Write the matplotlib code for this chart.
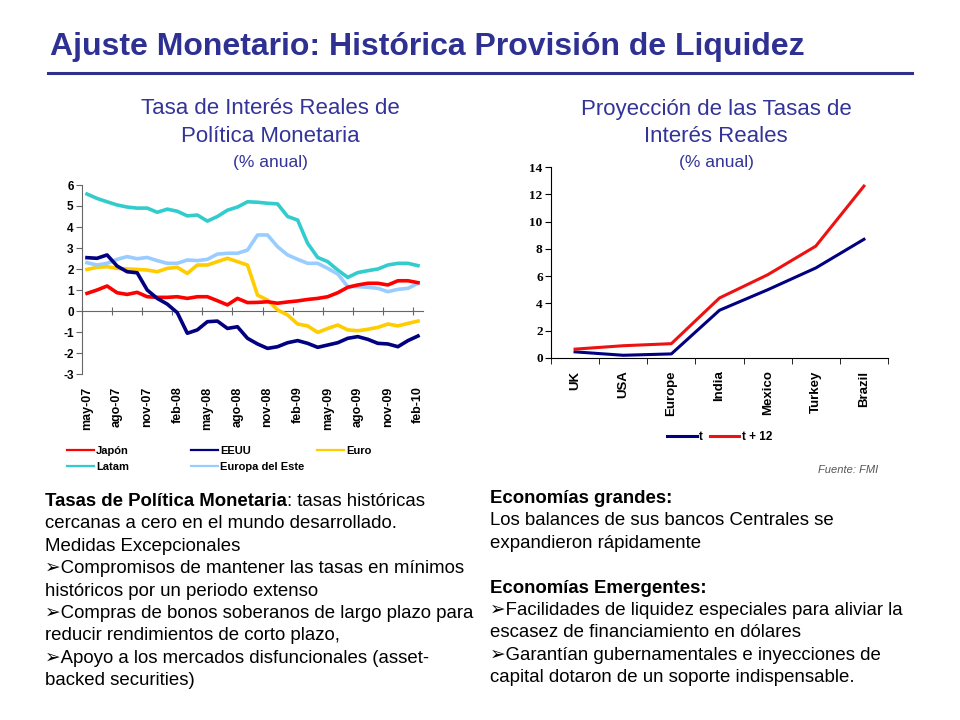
import matplotlib.pyplot as plt
import numpy as np

plt.rcParams['font.family'] = ['Liberation Sans', 'DejaVu Sans']
plt.rcParams['axes.unicode_minus'] = False

# left chart: real policy rates, monthly may-07 .. feb-10
meses = ['may-07', 'ago-07', 'nov-07', 'feb-08', 'may-08', 'ago-08', 'nov-08',
         'feb-09', 'may-09', 'ago-09', 'nov-09', 'feb-10']
japon = [0.84, 1.0, 1.19, 0.87, 0.79, 0.89, 0.68, 0.65, 0.65, 0.68,
         0.6, 0.68, 0.68, 0.49, 0.29, 0.6, 0.4, 0.41, 0.44, 0.37,
         0.43, 0.48, 0.55, 0.6, 0.68, 0.87, 1.13, 1.24, 1.32, 1.32,
         1.24, 1.44, 1.44, 1.35]
eeuu = [2.54, 2.51, 2.67, 2.14, 1.87, 1.82, 1.0, 0.6, 0.33, -0.08,
        -1.06, -0.9, -0.51, -0.48, -0.83, -0.75, -1.3, -1.57, -1.78, -1.70,
        -1.51, -1.41, -1.54, -1.73, -1.62, -1.51, -1.3, -1.22, -1.35, -1.54,
        -1.57, -1.7, -1.41, -1.19]
euro = [1.98, 2.08, 2.11, 2.03, 2.0, 1.98, 1.95, 1.87, 2.03, 2.08,
        1.79, 2.19, 2.19, 2.35, 2.51, 2.35, 2.19, 0.76, 0.52, 0.05,
        -0.19, -0.62, -0.71, -1.02, -0.83, -0.67, -0.9, -0.94, -0.87, -0.78,
        -0.62, -0.71, -0.59, -0.48]
latam = [5.57, 5.36, 5.2, 5.05, 4.95, 4.9, 4.9, 4.7, 4.85, 4.75,
         4.53, 4.57, 4.28, 4.5, 4.8, 4.95, 5.2, 5.18, 5.13, 5.1,
         4.5, 4.33, 3.22, 2.55, 2.35, 1.95, 1.6, 1.83, 1.92, 2.0,
         2.19, 2.27, 2.27, 2.16]
europa_este = [2.3, 2.19, 2.27, 2.46, 2.59, 2.49, 2.55, 2.4, 2.27, 2.27,
               2.43, 2.4, 2.46, 2.71, 2.75, 2.75, 2.9, 3.62, 3.62, 3.06,
               2.67, 2.46, 2.27, 2.27, 2.03, 1.76, 1.16, 1.16, 1.13, 1.08,
               0.92, 1.03, 1.08, 1.32]

# right chart: projected real rates
paises = ['UK', 'USA', 'Europe', 'India', 'Mexico', 'Turkey', 'Brazil']
tasa_t = [0.45, 0.2, 0.3, 3.5, 5.0, 6.6, 8.7]
tasa_t12 = [0.65, 0.9, 1.05, 4.4, 6.1, 8.2, 12.6]

W, H = 960, 720
NAVY = '#2E3192'
SUB = '#333399'


def box(x0, y0, x1, y1):
    return [x0 / W, 1 - y1 / H, (x1 - x0) / W, (y1 - y0) / H]


fig = plt.figure(figsize=(9.6, 7.2), dpi=100)

# title + rule
fig.text(50 / W, 1 - 47 / H, 'Ajuste Monetario: Histórica Provisión de Liquidez',
         color=NAVY, fontsize=23, fontweight='bold', va='center', ha='left')
fig.add_artist(plt.Line2D([48 / W, 912 / W], [1 - 73 / H, 1 - 73 / H],
                          color=NAVY, lw=2.2))

# subtitles
for cx, l1, l2 in [(270, 'Tasa de Interés Reales de', 'Política Monetaria'),
                   (716, 'Proyección de las Tasas de', 'Interés Reales')]:
    fig.text(cx / W, 1 - 109 / H, l1, color=SUB, fontsize=16, ha='center', va='center')
    fig.text(cx / W, 1 - 137 / H, l2, color=SUB, fontsize=16, ha='center', va='center')
    fig.text(cx / W, 1 - 163 / H, '(% anual)', color=SUB, fontsize=12.5, ha='center', va='center')

# ---- left chart
ax = fig.add_axes(box(82, 185, 423, 374))
x = np.arange(len(japon))
lw = 2.6
h_latam, = ax.plot(x, latam, color='#33CCCC', lw=lw, label='Latam')
h_euro, = ax.plot(x, euro, color='#FFCC00', lw=lw, label='Euro')
h_este, = ax.plot(x, europa_este, color='#99CCFF', lw=lw, label='Europa del Este')
h_jap, = ax.plot(x, japon, color='#FF0000', lw=lw, label='Japón')
h_eeuu, = ax.plot(x, eeuu, color='#000080', lw=lw, label='EEUU')

ax.set_xlim(-0.5, len(japon) - 0.5)
ax.set_ylim(-3, 6)
ax.set_yticks(range(-3, 7))
for s in ['top', 'right', 'bottom']:
    ax.spines[s].set_visible(False)
ax.spines['left'].set_color('#666666')
ax.tick_params(axis='y', direction='out', length=4, color='#666666', labelsize=8.5, pad=2)
for lab in ax.get_yticklabels():
    lab.set_fontweight('bold')
ax.set_xticks(np.arange(0, len(japon), 3))
ax.set_xticklabels(meses, rotation=90, fontsize=9, fontweight='bold')
ax.tick_params(axis='x', length=0, pad=9)

zero_axis = ax.secondary_xaxis(1 / 3)
zero_axis.set_xticks(np.arange(-0.5, len(japon), 3))
zero_axis.set_xticklabels([])
zero_axis.tick_params(axis='x', direction='inout', length=6, color='#666666')
zero_axis.spines['bottom'].set_color('#666666')

leg_kw = dict(loc='upper left', frameon=False, handlelength=2.4,
              handletextpad=0.2, borderpad=0, borderaxespad=0, labelspacing=0.55,
              prop={'weight': 'bold', 'size': 8})
cols = [([h_jap, h_latam], 67), ([h_eeuu, h_este], 191), ([h_euro], 317)]
for hs, lx in cols:
    lg = fig.legend(handles=hs, bbox_to_anchor=(lx / W, 1 - 446 / H), **leg_kw)
    for ln in lg.get_lines():
        ln.set_linewidth(1.6)

# ---- right chart
ax2 = fig.add_axes(box(551, 167, 888, 358))
xp = np.arange(len(paises))
h_t, = ax2.plot(xp, tasa_t, color='#000080', lw=2.2, label='t')
h_t12, = ax2.plot(xp, tasa_t12, color='#EE1111', lw=2.2, label='t + 12')
ax2.set_xlim(-0.5, len(paises) - 0.5)
ax2.set_ylim(0, 14)
ax2.set_yticks(range(0, 15, 2))
for s in ['top', 'right']:
    ax2.spines[s].set_visible(False)
ax2.tick_params(axis='y', direction='out', length=4, pad=2)
for lab in ax2.get_yticklabels():
    lab.set_family('Liberation Serif')
    lab.set_fontweight('bold')
    lab.set_fontsize(9.5)
ax2.set_xticks(xp)
ax2.set_xticklabels(paises, rotation=90, fontsize=9.5, fontweight='bold')
ax2.set_xticks(np.arange(-0.5, len(paises)), minor=True)
ax2.tick_params(axis='x', which='major', length=0, pad=9)
ax2.tick_params(axis='x', which='minor', direction='out', length=4)

lg2 = fig.legend(handles=[h_t, h_t12], loc='upper left', ncol=2, frameon=False,
                 handlelength=2.5, handletextpad=0.2, columnspacing=0.6,
                 borderpad=0, borderaxespad=0, prop={'weight': 'bold', 'size': 8.5},
                 bbox_to_anchor=(667 / W, 1 - 431 / H))

fig.text(878 / W, 1 - 470 / H, 'Fuente: FMI', ha='right', va='center',
         style='italic', color='#555555', fontsize=8)

# ---- body text
renderer = fig.canvas.get_renderer()
BUL = '\u27a2'


def draw_block(x0, y0, lines, dy=22.4, size=13.4):
    for i, segs in enumerate(lines):
        xpix = x0
        y = 1 - (y0 + i * dy) / H
        for txt, bold in segs:
            t = fig.text(xpix / W, y, txt, fontsize=size, ha='left', va='baseline',
                         fontweight='bold' if bold else 'normal')
            xpix = t.get_window_extent(renderer).x1


left_lines = [
    [('Tasas de Política Monetaria', True), (': tasas históricas', False)],
    [('cercanas a cero en el mundo desarrollado.', False)],
    [('Medidas Excepcionales', False)],
    [(BUL + 'Compromisos de mantener las tasas en mínimos', False)],
    [('históricos por un periodo extenso', False)],
    [(BUL + 'Compras de bonos soberanos de largo plazo para', False)],
    [('reducir rendimientos de corto plazo,', False)],
    [(BUL + 'Apoyo a los mercados disfuncionales (asset-', False)],
    [('backed securities)', False)],
]
right_lines = [
    [('Economías grandes:', True)],
    [('Los balances de sus bancos Centrales se', False)],
    [('expandieron rápidamente', False)],
    [('', False)],
    [('Economías Emergentes:', True)],
    [(BUL + 'Facilidades de liquidez especiales para aliviar la', False)],
    [('escasez de financiamiento en dólares', False)],
    [(BUL + 'Garantían gubernamentales e inyecciones de', False)],
    [('capital dotaron de un soporte indispensable.', False)],
]
draw_block(45, 506, left_lines)
draw_block(490, 503, right_lines)

fig.savefig('out.png', dpi=100)
